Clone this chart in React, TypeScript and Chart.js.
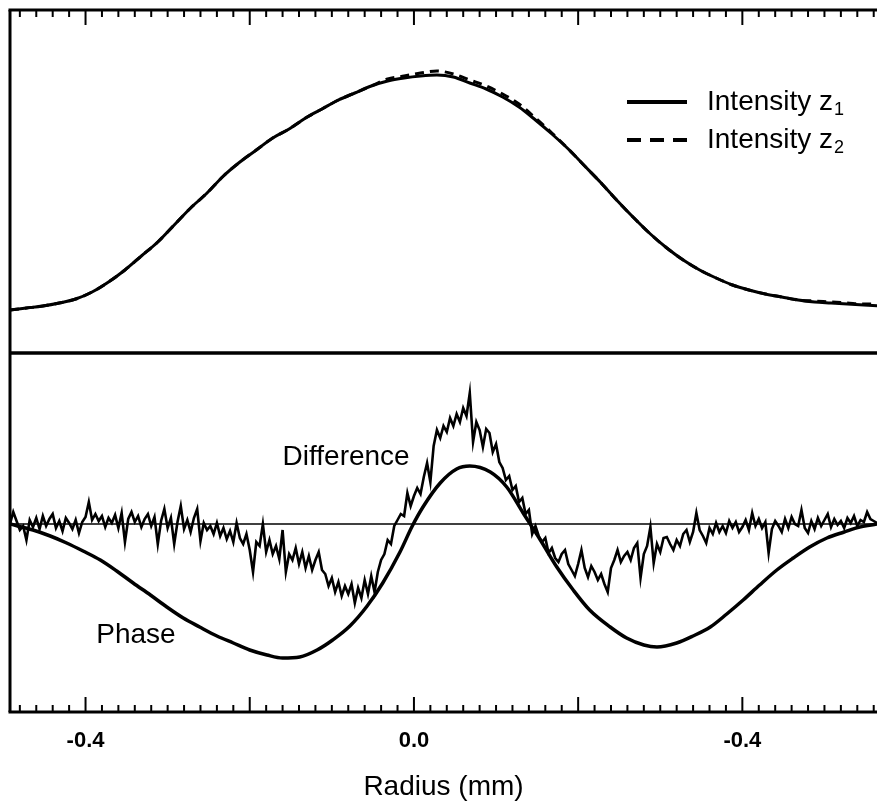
import React, { useEffect, useRef } from "react";
import { Chart, registerables } from "chart.js";

Chart.register(...registerables);

// ---------- data (radius in mm) ----------
const INTENSITY_X = [
  -0.492, -0.472, -0.452, -0.432, -0.412, -0.392, -0.372, -0.352, -0.332, -0.312,
  -0.292, -0.272, -0.252, -0.232, -0.212, -0.192, -0.172, -0.152, -0.132, -0.112,
  -0.092, -0.072, -0.052, -0.032, -0.012, 0.008, 0.028, 0.048, 0.068, 0.088,
  0.108, 0.128, 0.148, 0.168, 0.188, 0.208, 0.228, 0.248, 0.268, 0.288,
  0.308, 0.328, 0.348, 0.368, 0.388, 0.408, 0.428, 0.448, 0.468, 0.488,
  0.508, 0.528, 0.548, 0.568,
];
const INTENSITY_Z1 = [
  0.43, 0.45, 0.47, 0.5, 0.54, 0.61, 0.71, 0.83, 0.97, 1.11,
  1.28, 1.45, 1.6, 1.77, 1.91, 2.03, 2.15, 2.24, 2.35, 2.44,
  2.53, 2.6, 2.67, 2.72, 2.75, 2.77, 2.78, 2.76, 2.7, 2.64,
  2.56, 2.46, 2.33, 2.19, 2.04, 1.87, 1.7, 1.52, 1.35, 1.19,
  1.05, 0.93, 0.83, 0.75, 0.68, 0.63, 0.59, 0.56, 0.53, 0.51,
  0.5, 0.49, 0.48, 0.47,
];
const INTENSITY_Z2 = [
  0.43, 0.45, 0.47, 0.5, 0.54, 0.61, 0.71, 0.83, 0.97, 1.11,
  1.28, 1.45, 1.6, 1.77, 1.91, 2.03, 2.15, 2.24, 2.35, 2.44,
  2.53, 2.6, 2.67, 2.74, 2.77, 2.8, 2.82, 2.79, 2.73, 2.67,
  2.59, 2.49, 2.35, 2.2, 2.04, 1.87, 1.7, 1.52, 1.35, 1.19,
  1.05, 0.93, 0.83, 0.75, 0.68, 0.63, 0.59, 0.56, 0.53, 0.52,
  0.51, 0.5, 0.49, 0.49,
];

const PHASE_X = [
  -0.492, -0.464, -0.443, -0.423, -0.403, -0.382, -0.362, -0.342, -0.321, -0.301,
  -0.281, -0.261, -0.24, -0.22, -0.2, -0.179, -0.16, -0.139, -0.118, -0.099,
  -0.078, -0.057, -0.038, -0.017, -0.002, 0.011, 0.032, 0.052, 0.068, 0.093,
  0.113, 0.133, 0.154, 0.174, 0.194, 0.214, 0.239, 0.259, 0.28, 0.296,
  0.32, 0.34, 0.361, 0.381, 0.401, 0.421, 0.442, 0.462, 0.482, 0.503,
  0.524, 0.543, 0.564,
];
const PHASE = [
  0.0, -0.06, -0.12, -0.19, -0.27, -0.36, -0.47, -0.59, -0.71, -0.83,
  -0.94, -1.03, -1.12, -1.19, -1.26, -1.31, -1.34, -1.33, -1.26, -1.16,
  -1.02, -0.82, -0.59, -0.28, -0.02, 0.17, 0.41, 0.55, 0.58, 0.52,
  0.37, 0.11, -0.16, -0.43, -0.66, -0.86, -1.03, -1.14, -1.21, -1.23,
  -1.19, -1.12, -1.03, -0.9, -0.76, -0.61, -0.46, -0.34, -0.23, -0.14,
  -0.08, -0.03, 0.0,
];

const DIFF_X = [
  -0.492, -0.488, -0.484, -0.48, -0.476, -0.472, -0.468, -0.464, -0.46, -0.456,
  -0.452, -0.448, -0.444, -0.44, -0.436, -0.432, -0.428, -0.424, -0.42, -0.416,
  -0.412, -0.408, -0.404, -0.4, -0.396, -0.392, -0.388, -0.384, -0.38, -0.376,
  -0.372, -0.368, -0.364, -0.36, -0.356, -0.352, -0.348, -0.344, -0.34, -0.336,
  -0.332, -0.328, -0.324, -0.32, -0.316, -0.312, -0.308, -0.304, -0.3, -0.296,
  -0.292, -0.288, -0.284, -0.28, -0.276, -0.272, -0.268, -0.264, -0.26, -0.256,
  -0.252, -0.248, -0.244, -0.24, -0.236, -0.232, -0.228, -0.224, -0.22, -0.216,
  -0.212, -0.208, -0.204, -0.2, -0.196, -0.192, -0.188, -0.184, -0.18, -0.176,
  -0.172, -0.168, -0.164, -0.16, -0.156, -0.152, -0.148, -0.144, -0.14, -0.136,
  -0.132, -0.128, -0.124, -0.12, -0.116, -0.112, -0.108, -0.104, -0.1, -0.096,
  -0.092, -0.088, -0.084, -0.08, -0.076, -0.072, -0.068, -0.064, -0.06, -0.056,
  -0.052, -0.048, -0.044, -0.04, -0.036, -0.032, -0.028, -0.024, -0.02, -0.016,
  -0.012, -0.008, -0.004, 0.0, 0.004, 0.008, 0.012, 0.016, 0.02, 0.024,
  0.028, 0.032, 0.036, 0.04, 0.044, 0.048, 0.052, 0.056, 0.06, 0.064,
  0.068, 0.072, 0.076, 0.08, 0.084, 0.088, 0.092, 0.096, 0.1, 0.104,
  0.108, 0.112, 0.116, 0.12, 0.124, 0.128, 0.132, 0.136, 0.14, 0.144,
  0.148, 0.152, 0.156, 0.16, 0.164, 0.168, 0.172, 0.176, 0.18, 0.184,
  0.188, 0.192, 0.196, 0.2, 0.204, 0.208, 0.212, 0.216, 0.22, 0.224,
  0.228, 0.232, 0.236, 0.24, 0.244, 0.248, 0.252, 0.256, 0.26, 0.264,
  0.268, 0.272, 0.276, 0.28, 0.284, 0.288, 0.292, 0.296, 0.3, 0.304,
  0.308, 0.312, 0.316, 0.32, 0.324, 0.328, 0.332, 0.336, 0.34, 0.344,
  0.348, 0.352, 0.356, 0.36, 0.364, 0.368, 0.372, 0.376, 0.38, 0.384,
  0.388, 0.392, 0.396, 0.4, 0.404, 0.408, 0.412, 0.416, 0.42, 0.424,
  0.428, 0.432, 0.436, 0.44, 0.444, 0.448, 0.452, 0.456, 0.46, 0.464,
  0.468, 0.472, 0.476, 0.48, 0.484, 0.488, 0.492, 0.496, 0.5, 0.504,
  0.508, 0.512, 0.516, 0.52, 0.524, 0.528, 0.532, 0.536, 0.54, 0.544,
  0.548, 0.552, 0.556, 0.56, 0.564,
];
const DIFFERENCE = [
  0.0, 0.12, 0.03, -0.06, -0.02, -0.16, 0.04, -0.03, 0.06, -0.05,
  0.08, -0.02, 0.05, 0.1, -0.04, 0.03, -0.07, 0.06, 0.01, -0.05,
  0.04, -0.09, 0.02, 0.07, 0.22, 0.04, 0.1, 0.03, 0.08, -0.03,
  0.06, 0.01, 0.09, -0.04, 0.11, -0.18, 0.05, 0.12, 0.02, 0.08,
  -0.03, 0.05, 0.1, -0.02, 0.07, -0.2, 0.03, 0.15, -0.04, 0.06,
  -0.2, 0.02, 0.18, -0.05, 0.04, -0.08, 0.06, 0.15, -0.17, 0.01,
  -0.06, -0.02, -0.1, 0.01, -0.12, -0.04, -0.15, -0.07, -0.18, 0.01,
  -0.14, -0.2, -0.1, -0.26, -0.48, -0.18, -0.22, 0.0, -0.28, -0.16,
  -0.3, -0.22, -0.35, -0.06, -0.48, -0.3, -0.36, -0.24, -0.4, -0.28,
  -0.44, -0.32, -0.46, -0.36, -0.28, -0.46, -0.5, -0.62, -0.54, -0.68,
  -0.58, -0.72, -0.62, -0.7, -0.6, -0.79, -0.64, -0.74, -0.56, -0.7,
  -0.52, -0.68, -0.48, -0.36, -0.3, -0.16, -0.2, -0.02, 0.04, 0.1,
  0.08, 0.31, 0.18, 0.28, 0.36, 0.3, 0.47, 0.61, 0.42, 0.78,
  0.94, 0.86, 0.98, 0.92, 1.06, 0.98, 1.1, 1.02, 1.16, 1.08,
  1.31, 0.82, 1.02, 0.94, 0.77, 0.95, 0.91, 0.72, 0.8, 0.62,
  0.56, 0.44, 0.48, 0.34, 0.38, 0.22, 0.26, 0.1, 0.14, -0.1,
  -0.02, -0.12, -0.18, -0.14, -0.29, -0.24, -0.34, -0.38, -0.3, -0.26,
  -0.4, -0.46, -0.52, -0.4, -0.26, -0.44, -0.53, -0.42, -0.48, -0.56,
  -0.5, -0.6, -0.68, -0.44, -0.36, -0.26, -0.38, -0.32, -0.28, -0.36,
  -0.24, -0.19, -0.54, -0.3, -0.22, -0.03, -0.39, -0.2, -0.28, -0.14,
  -0.13, -0.2, -0.26, -0.16, -0.22, -0.1, -0.06, -0.18, -0.08, 0.11,
  -0.06, -0.12, -0.19, -0.04, -0.1, 0.01, -0.08, -0.02, -0.09, 0.03,
  -0.04, 0.02, -0.08, -0.03, 0.04, -0.06, 0.11, -0.02, 0.05, -0.04,
  0.02, -0.29, -0.05, 0.03, -0.02, -0.08, 0.05, -0.04, 0.07, 0.0,
  -0.02, 0.14, -0.04, -0.09, 0.03, -0.05, 0.06, -0.02, 0.04, 0.1,
  -0.03, 0.05, -0.01, 0.03, -0.04, 0.06, 0.01, 0.08, -0.02, 0.04,
  0.02, 0.12, 0.05, 0.03, 0.01,
];

const TICK_VALUES = [-0.4, 0.0, 0.4];
const TICK_LABELS = ["-0.4", "0.0", "-0.4"];
const AXIS_TITLE = "Radius (mm)";
const LEGEND_NAMES = ["Intensity z", "Intensity z"];
const LEGEND_SUBS = ["1", "2"];
const CURVE_LABELS = ["Difference", "Phase"];
const CURVE_LABEL_X = [-0.16, -0.387];
const CURVE_LABEL_Y = [0.59, -1.19];

const FONT = '"Liberation Sans", Arial, Helvetica, sans-serif';

const pts = (xs: number[], ys: number[]) => xs.map((x, i) => ({ x, y: ys[i] }));

function line(ctx: CanvasRenderingContext2D, x1: number, y1: number, x2: number, y2: number) {
  ctx.beginPath();
  ctx.moveTo(x1, y1);
  ctx.lineTo(x2, y2);
  ctx.stroke();
}

const framePlugin = {
  id: "frame",
  beforeDatasetsDraw(chart: any) {
    const { ctx, chartArea, scales } = chart;
    const y0 = scales.yBot.getPixelForValue(0);
    ctx.save();
    ctx.strokeStyle = "#000";
    ctx.lineWidth = 1.5;
    line(ctx, chartArea.left, y0, chartArea.right, y0);
    ctx.restore();
  },
  afterDatasetsDraw(chart: any) {
    const { ctx, chartArea, scales } = chart;
    const { left, right, top, bottom } = chartArea;
    const x = scales.x;
    ctx.save();
    ctx.strokeStyle = "#000";
    ctx.fillStyle = "#000";
    ctx.lineCap = "butt";

    // frame
    ctx.lineWidth = 3;
    line(ctx, left - 1.5, top, right, top);
    line(ctx, left, top, left, bottom);
    line(ctx, left - 1.5, bottom, right, bottom);
    const ySplit = scales.yTop.getPixelForValue(0);
    ctx.lineWidth = 3.5;
    line(ctx, left, ySplit, right, ySplit);

    // minor / major ticks, inward on top and bottom
    ctx.lineWidth = 2;
    for (let k = -24; k <= 28; k++) {
      const v = k * 0.02;
      const px = x.getPixelForValue(v);
      if (px < left + 3 || px > right) continue;
      const len = k % 10 === 0 ? 15 : 7;
      line(ctx, px, top, px, top + len);
      line(ctx, px, bottom, px, bottom - len);
    }

    // legend
    const lx1 = right - 250;
    const lx2 = right - 190;
    const rows = [top + 92, top + 130];
    ctx.lineWidth = 4;
    rows.forEach((ry, i) => {
      ctx.setLineDash(i === 0 ? [] : [14, 9]);
      line(ctx, lx1, ry, lx2, ry);
      ctx.setLineDash([]);
      ctx.font = `28px ${FONT}`;
      ctx.textAlign = "left";
      ctx.textBaseline = "alphabetic";
      const tx = right - 170;
      ctx.fillText(LEGEND_NAMES[i], tx, ry + 8);
      const w = ctx.measureText(LEGEND_NAMES[i]).width;
      ctx.font = `18px ${FONT}`;
      ctx.fillText(LEGEND_SUBS[i], tx + w + 1, ry + 13);
    });

    // curve labels
    ctx.font = `28px ${FONT}`;
    ctx.textAlign = "left";
    ctx.textBaseline = "alphabetic";
    CURVE_LABELS.forEach((t, i) => {
      ctx.fillText(t, x.getPixelForValue(CURVE_LABEL_X[i]), scales.yBot.getPixelForValue(CURVE_LABEL_Y[i]));
    });
    ctx.restore();
  },
};

export default function App() {
  const ref = useRef<HTMLCanvasElement>(null);
  useEffect(() => {
    if (!ref.current) return;
    const chart = new Chart(ref.current, {
      type: "line",
      data: {
        datasets: [
          {
            label: "Intensity z1",
            data: pts(INTENSITY_X, INTENSITY_Z1),
            yAxisID: "yTop",
            borderColor: "#000",
            borderWidth: 3,
            pointRadius: 0,
            cubicInterpolationMode: "monotone",
            fill: false,
          },
          {
            label: "Intensity z2",
            data: pts(INTENSITY_X, INTENSITY_Z2),
            yAxisID: "yTop",
            borderColor: "#000",
            borderWidth: 3,
            borderDash: [9, 6],
            pointRadius: 0,
            cubicInterpolationMode: "monotone",
            fill: false,
          },
          {
            label: "Difference",
            data: pts(DIFF_X, DIFFERENCE),
            yAxisID: "yBot",
            borderColor: "#000",
            borderWidth: 2.6,
            pointRadius: 0,
            tension: 0,
            fill: false,
          },
          {
            label: "Phase",
            data: pts(PHASE_X, PHASE),
            yAxisID: "yBot",
            borderColor: "#000",
            borderWidth: 3.5,
            pointRadius: 0,
            cubicInterpolationMode: "monotone",
            fill: false,
          },
        ],
      },
      options: {
        animation: false,
        responsive: false,
        devicePixelRatio: 1,
        layout: { padding: { left: 10, right: 0, top: 10, bottom: 0 } },
        plugins: { legend: { display: false }, tooltip: { enabled: false } },
        scales: {
          x: {
            type: "linear",
            position: "bottom",
            min: -0.492,
            max: 0.564,
            afterBuildTicks: (s: any) => {
              s.ticks = TICK_VALUES.map((v) => ({ value: v }));
            },
            afterFit: (s: any) => {
              s.height = 98;
            },
            ticks: {
              autoSkip: false,
              maxRotation: 0,
              padding: 16,
              color: "#000",
              font: { family: FONT, size: 22, weight: "bold" },
              callback: (_v: any, i: number) => TICK_LABELS[i],
            },
            grid: { display: false, drawTicks: false },
            border: { display: false },
            title: {
              display: true,
              text: AXIS_TITLE,
              color: "#000",
              font: { family: FONT, size: 28 },
              padding: { top: 0, bottom: 6 },
            },
          },
          yTop: {
            type: "linear",
            display: false,
            min: -3.59,
            max: 3.43,
          },
          yBot: {
            type: "linear",
            display: false,
            min: -1.88,
            max: 5.14,
          },
        },
      },
      plugins: [framePlugin],
    } as any);
    return () => chart.destroy();
  }, []);
  return (
    <div style={{ position: "absolute", left: 0, top: 0, width: 877, height: 810, background: "#fff" }}>
      <canvas ref={ref} width={877} height={810} style={{ display: "block", width: 877, height: 810 }} />
    </div>
  );
}
